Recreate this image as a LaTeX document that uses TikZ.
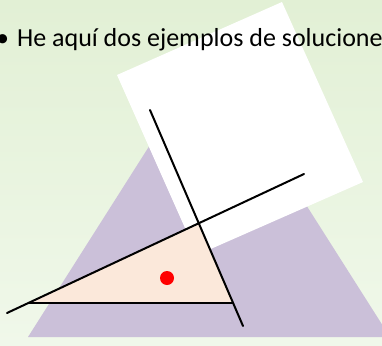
\documentclass[tikz,border=0pt]{standalone}
\usepackage{fontspec}
\setmainfont{Carlito}
\usetikzlibrary{calc}
\definecolor{bgtop}{HTML}{E2F0D5}
\definecolor{bgbot}{HTML}{F0F8EA}
\definecolor{lilac}{HTML}{CBC0D9}
\definecolor{peach}{HTML}{FBE8DA}
\definecolor{dotred}{HTML}{FF0000}
\tikzset{
  cutline/.style={draw=black, line width=2pt, line cap=round},
  sheet/.style={fill=white, draw=none},
  bullettext/.style={anchor=base west, inner sep=0pt, font=\fontsize{26}{30}\selectfont}
}
\begin{document}
\begin{tikzpicture}[x=1pt, y=-1pt]
        \useasboundingbox (0,0) rectangle (382,345);
        \shade[top color=bgtop, bottom color=bgbot] (0,0) rectangle (382,345);
        \begin{scope}
          \clip (0,0) rectangle (382,345);
          % big triangle
          \coordinate (bl) at (28,337);
          \coordinate (br) at (390,337);
          \coordinate (apex) at (209,52);
          \fill[lilac] (bl) -- (apex) -- (br) -- cycle;
          % tilted sheet
          \coordinate (sl) at (117,75);
          \coordinate (st) at (282,2);
          \coordinate (sr) at (363,182);
          \coordinate (sb) at (197,255);
          \path[sheet] (sl) -- (st) -- (sr) -- (sb) -- cycle;
          % small triangle
          \coordinate (ta) at (29,303);
          \coordinate (tb) at (199,224);
          \coordinate (tc) at (233,303);
          \fill[peach] (ta) -- (tb) -- (tc) -- cycle;
          % lines
          \coordinate (l1a) at (7,313);
          \coordinate (l1b) at (304,174);
          \coordinate (l2a) at (150,110);
          \coordinate (l2b) at (243,326);
          \draw[cutline] (l1a) -- (l1b);
          \draw[cutline] (l2a) -- (l2b);
          \draw[cutline] (ta) -- (tc);
          \node[circle, fill=dotred, minimum size=14pt, inner sep=0pt] (dot) at (167,278) {};
          \node[bullettext] (title) at (-4,47) {\textbullet\hspace{8pt}He aquí dos ejemplos de soluciones};
        \end{scope}
      \end{tikzpicture}
\end{document}
